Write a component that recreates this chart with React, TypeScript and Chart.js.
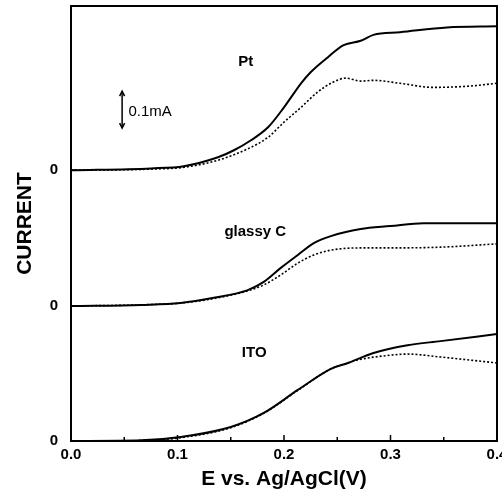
import React, { useEffect, useRef } from "react";
import { Chart, registerables } from "chart.js";

Chart.register(...registerables);

// Axis ticks
const X_TICK_STEP = 0.05;
const X_MIN = 0.0;
const X_MAX = 0.4;
const Y_MIN = 0;
const Y_MAX = 1.176;

// Vertical offsets (mA) of each electrode trace
const OFFSET_PT = 0.732;
const OFFSET_GC = 0.365;
const OFFSET_ITO = 0;
const ZERO_LEVELS = [OFFSET_ITO, OFFSET_GC, OFFSET_PT];

// Pt (mA vs V)
const PT_SOLID_E = [0, 0.075, 0.106, 0.138, 0.153, 0.169, 0.185, 0.2, 0.216, 0.225, 0.241, 0.256, 0.272, 0.284, 0.309, 0.353, 0.4];
const PT_SOLID_I = [0, 0.005, 0.011, 0.035, 0.054, 0.081, 0.116, 0.17, 0.235, 0.265, 0.305, 0.338, 0.35, 0.366, 0.373, 0.386, 0.389];
const PT_DOT_E = [0, 0.075, 0.106, 0.138, 0.169, 0.185, 0.2, 0.216, 0.231, 0.246, 0.258, 0.272, 0.284, 0.309, 0.34, 0.372, 0.4];
const PT_DOT_I = [0, 0.003, 0.008, 0.027, 0.062, 0.089, 0.13, 0.17, 0.21, 0.238, 0.249, 0.241, 0.243, 0.235, 0.224, 0.227, 0.235];

// glassy C
const GC_SOLID_E = [0, 0.066, 0.103, 0.134, 0.166, 0.181, 0.197, 0.213, 0.228, 0.244, 0.272, 0.3, 0.331, 0.4];
const GC_SOLID_I = [0, 0.003, 0.008, 0.022, 0.043, 0.065, 0.103, 0.138, 0.17, 0.189, 0.208, 0.216, 0.224, 0.224];
const GC_DOT_E = [0, 0.066, 0.103, 0.134, 0.166, 0.181, 0.197, 0.213, 0.228, 0.244, 0.272, 0.3, 0.347, 0.4];
const GC_DOT_I = [0, 0.003, 0.008, 0.02, 0.041, 0.057, 0.084, 0.116, 0.138, 0.151, 0.157, 0.157, 0.159, 0.168];

// ITO
const ITO_SOLID_E = [0, 0.066, 0.103, 0.15, 0.181, 0.213, 0.244, 0.26, 0.284, 0.316, 0.347, 0.4];
const ITO_SOLID_I = [0, 0.002, 0.011, 0.038, 0.076, 0.138, 0.195, 0.211, 0.238, 0.259, 0.27, 0.289];
const ITO_DOT_E = [0, 0.066, 0.103, 0.15, 0.181, 0.213, 0.244, 0.26, 0.269, 0.3, 0.316, 0.347, 0.4];
const ITO_DOT_I = [0, 0.001, 0.009, 0.036, 0.075, 0.137, 0.195, 0.211, 0.219, 0.232, 0.235, 0.227, 0.211];

// Annotations (positions in data units)
const LABELS = [
  { text: "Pt", e: 0.164, i: 1.024 },
  { text: "glassy C", e: 0.173, i: 0.565 },
  { text: "ITO", e: 0.172, i: 0.238 },
];
const SCALE_BAR = { e: 0.048, from: 0.846, to: 0.946, label: "0.1mA", labelE: 0.054, labelI: 0.889 };

const FONT = "'Liberation Sans', Arial, Helvetica, sans-serif";

function pts(es: number[], is: number[], off: number) {
  return es.map((e, k) => ({ x: e, y: is[k] + off }));
}

const decorPlugin = {
  id: "decor",
  afterDraw(chart: any) {
    const { ctx, chartArea, scales } = chart;
    const xs = scales.x;
    const ys = scales.y;
    ctx.save();
    ctx.strokeStyle = "#000";
    ctx.lineWidth = 2;
    ctx.strokeRect(chartArea.left, chartArea.top, chartArea.right - chartArea.left, chartArea.bottom - chartArea.top);
    // inward x ticks
    ctx.lineWidth = 1.5;
    for (let v = X_MIN + X_TICK_STEP; v < X_MAX - 1e-9; v += X_TICK_STEP) {
      const px = xs.getPixelForValue(v);
      const major = Math.abs(Math.round(v * 10) - v * 10) < 1e-6;
      ctx.beginPath();
      ctx.moveTo(px, chartArea.bottom);
      ctx.lineTo(px, chartArea.bottom - (major ? 6 : 4));
      ctx.stroke();
    }
    // inward y ticks at zero levels
    ZERO_LEVELS.forEach((z) => {
      if (z === 0) return;
      const py = ys.getPixelForValue(z);
      ctx.beginPath();
      ctx.moveTo(chartArea.left, py);
      ctx.lineTo(chartArea.left + 6, py);
      ctx.stroke();
    });
    // labels
    ctx.fillStyle = "#000";
    ctx.font = `bold 15px ${FONT}`;
    ctx.textAlign = "center";
    ctx.textBaseline = "middle";
    LABELS.forEach((l) => {
      ctx.fillText(l.text, xs.getPixelForValue(l.e), ys.getPixelForValue(l.i));
    });
    // scale bar
    const bx = xs.getPixelForValue(SCALE_BAR.e);
    const y1 = ys.getPixelForValue(SCALE_BAR.to);
    const y2 = ys.getPixelForValue(SCALE_BAR.from);
    ctx.lineWidth = 1.5;
    ctx.beginPath();
    ctx.moveTo(bx, y1);
    ctx.lineTo(bx, y2);
    ctx.stroke();
    ctx.beginPath();
    ctx.moveTo(bx - 2.5, y1 + 5);
    ctx.lineTo(bx, y1);
    ctx.lineTo(bx + 2.5, y1 + 5);
    ctx.moveTo(bx - 2.5, y2 - 5);
    ctx.lineTo(bx, y2);
    ctx.lineTo(bx + 2.5, y2 - 5);
    ctx.stroke();
    ctx.font = `15px ${FONT}`;
    ctx.textAlign = "left";
    ctx.fillText(SCALE_BAR.label, xs.getPixelForValue(SCALE_BAR.labelE), ys.getPixelForValue(SCALE_BAR.labelI));
    ctx.restore();
  },
};

export default function App() {
  const ref = useRef<HTMLCanvasElement | null>(null);
  useEffect(() => {
    if (!ref.current) return;
    const solid = { borderColor: "#000", borderWidth: 2, pointRadius: 0, fill: false, cubicInterpolationMode: "monotone" as const };
    const dotted = { borderColor: "#000", borderWidth: 1.6, borderDash: [2, 2], pointRadius: 0, fill: false, cubicInterpolationMode: "monotone" as const };
    const chart = new Chart(ref.current, {
      type: "line",
      data: {
        datasets: [
          { label: "Pt", data: pts(PT_SOLID_E, PT_SOLID_I, OFFSET_PT), ...solid },
          { label: "Pt dotted", data: pts(PT_DOT_E, PT_DOT_I, OFFSET_PT), ...dotted },
          { label: "glassy C", data: pts(GC_SOLID_E, GC_SOLID_I, OFFSET_GC), ...solid },
          { label: "glassy C dotted", data: pts(GC_DOT_E, GC_DOT_I, OFFSET_GC), ...dotted },
          { label: "ITO", data: pts(ITO_SOLID_E, ITO_SOLID_I, OFFSET_ITO), ...solid },
          { label: "ITO dotted", data: pts(ITO_DOT_E, ITO_DOT_I, OFFSET_ITO), ...dotted },
        ],
      },
      options: {
        responsive: false,
        animation: false,
        layout: { padding: { left: 0, right: 5, top: 6, bottom: 0 }, autoPadding: false },
        plugins: { legend: { display: false }, tooltip: { enabled: false } },
        scales: {
          x: {
            type: "linear",
            min: X_MIN,
            max: X_MAX,
            afterFit: (s: any) => {
              s.height = 57;
              s.paddingLeft = 0; s.paddingRight = 0; s.paddingTop = 0; s.paddingBottom = 0;
            },
            grid: { display: false, drawTicks: false },
            border: { display: false },
            ticks: {
              stepSize: 0.1,
              color: "#000",
              padding: 5,
              font: { family: FONT, size: 15, weight: "bold" },
              callback: (v: any) => Number(v).toFixed(1),
            },
            title: {
              display: true,
              text: "E vs. Ag/AgCl(V)",
              color: "#000",
              font: { family: FONT, size: 21, weight: "bold" },
              padding: { top: 0, bottom: 6 },
            },
          },
          y: {
            type: "linear",
            min: Y_MIN,
            max: Y_MAX,
            afterFit: (s: any) => {
              s.width = 71;
              s.paddingLeft = 0; s.paddingRight = 0; s.paddingTop = 0; s.paddingBottom = 0;
            },
            afterBuildTicks: (s: any) => { s.ticks = ZERO_LEVELS.map((v) => ({ value: v })); },
            grid: { display: false, drawTicks: false },
            border: { display: false },
            ticks: {
              color: "#000",
              padding: 13,
              font: { family: FONT, size: 15, weight: "bold" },
              callback: () => "0",
            },
            title: {
              display: true,
              text: "CURRENT",
              color: "#000",
              font: { family: FONT, size: 21, weight: "bold" },
              padding: { top: 13, bottom: 0 },
            },
          },
        },
      },
      plugins: [decorPlugin],
    });
    return () => chart.destroy();
  }, []);
  return (
    <div style={{ position: "fixed", left: 0, top: 0, width: 502, height: 498, background: "#fff" }}>
      <canvas ref={ref} width={502} height={498} style={{ width: 502, height: 498 }} />
    </div>
  );
}
